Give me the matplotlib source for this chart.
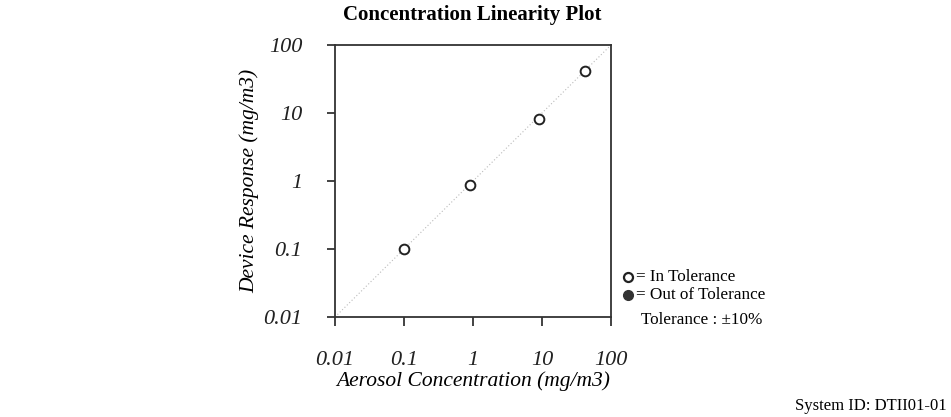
import numpy as np
import matplotlib
matplotlib.use("Agg")
import matplotlib.pyplot as plt
from matplotlib.lines import Line2D

plt.rcParams['font.family'] = ['Liberation Serif', 'DejaVu Serif']

# measured points (aerosol conc vs device response, mg/m3)
conc = [0.1, 0.9, 9.0, 42.0]
resp = [0.1, 0.88, 8.1, 41.0]
ticks = [0.01, 0.1, 1, 10, 100]
tick_labels = ['0.01', '0.1', '1', '10', '100']

fig = plt.figure(figsize=(9.51, 4.17), dpi=100)
ax = fig.add_axes([0.3523, 0.2398, 0.2902, 0.6523])

ax.plot([0.01, 100], [0.01, 100], color='#bbbbbb', lw=0.8, ls=(0, (1, 2)), zorder=1)
ax.plot(conc, resp, 'o', ms=7, mfc='white', mec='#222222', mew=1.4, zorder=3)

ax.set_xscale('log')
ax.set_yscale('log')
ax.set_xlim(0.01, 100)
ax.set_ylim(0.01, 100)
ax.set_xticks(ticks)
ax.set_xticklabels(tick_labels)
ax.set_yticks(ticks)
ax.set_yticklabels(tick_labels)
ax.minorticks_off()
for lab in ax.get_xticklabels() + ax.get_yticklabels():
    lab.set_fontstyle('italic')
    lab.set_fontsize(16)
ax.tick_params(axis='x', length=6.5, width=1.2, pad=18, colors='#222222')
ax.tick_params(axis='y', length=5.5, width=1.2, pad=18, colors='#222222')
for s in ax.spines.values():
    s.set_linewidth(1.3)
    s.set_color('#333333')

ax.set_xlabel('Aerosol Concentration (mg/m3)', fontsize=15.5, style='italic', labelpad=1)
ax.set_ylabel('Device Response (mg/m3)', fontsize=15.5, style='italic', labelpad=3)
fig.text(0.4965, 0.964, 'Concentration Linearity Plot', ha='center', va='center',
         fontsize=15, fontweight='bold')

# legend key drawn by hand
fig.add_artist(Line2D([0.6605], [0.336], marker='o', ms=6.5, mfc='white', mec='#222222',
                      mew=1.6, transform=fig.transFigure))
fig.add_artist(Line2D([0.6605], [0.292], marker='o', ms=7, mfc='#333333', mec='#333333',
                      mew=1.0, transform=fig.transFigure))
fig.text(0.669, 0.336, '= In Tolerance', fontsize=12.3, va='center')
fig.text(0.669, 0.292, '= Out of Tolerance', fontsize=12.3, va='center')
fig.text(0.674, 0.233, 'Tolerance : \u00b110%', fontsize=12.3, va='center')
fig.text(0.995, 0.027, 'System ID: DTII01-01', fontsize=12, ha='right', va='center')

fig.savefig('out.png', dpi=100)
